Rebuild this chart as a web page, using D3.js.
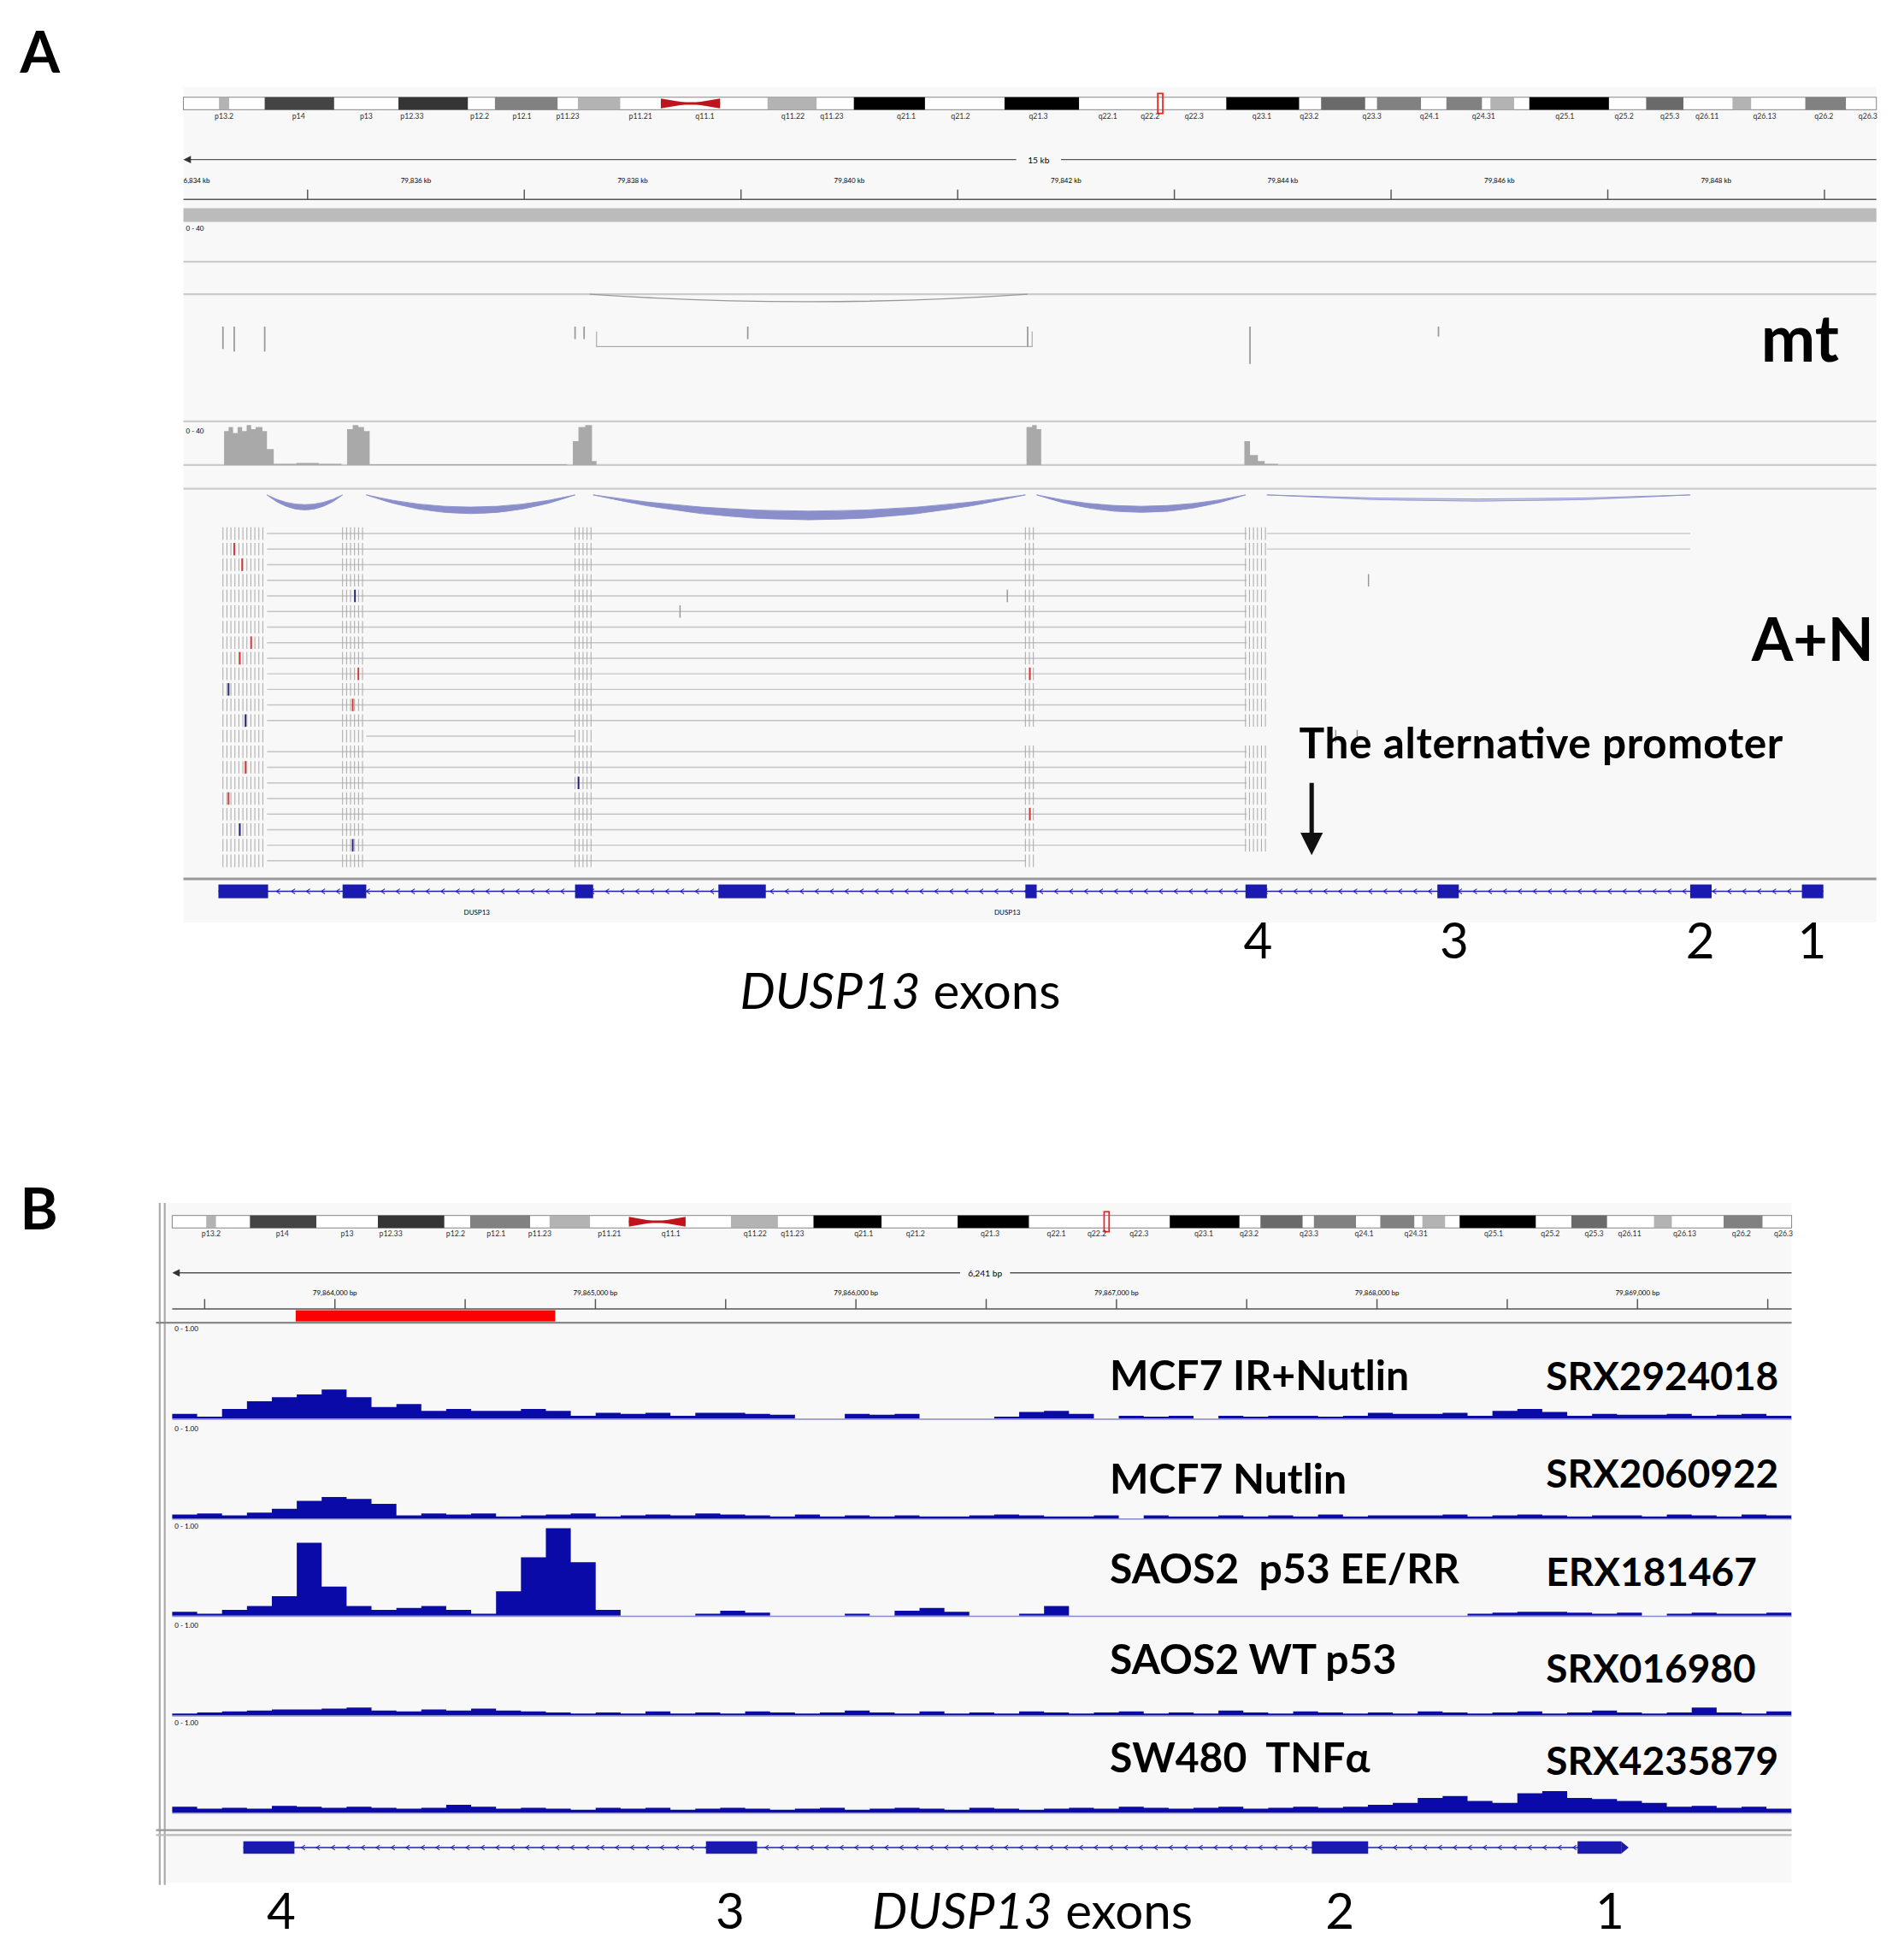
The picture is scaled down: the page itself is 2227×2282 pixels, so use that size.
<!DOCTYPE html>
<html><head><meta charset="utf-8">
<script src="https://cdn.jsdelivr.net/npm/d3@7"></script>
<style>body{margin:0;background:#fff}svg{display:block}</style>
</head><body><svg id="c" width="2227" height="2282" viewBox="0 0 1527 1565"></svg>
<script>
// ---------- DATA ----------
const bandStart = [.021,.048,.127,.184,.233,.345,.396,.485,.616,.672,.705,.746,.772,.795,.864,.915,.958];
const bandEnd   = [.027,.089,.168,.221,.258,.374,.438,.529,.659,.698,.731,.767,.786,.842,.886,.926,.982];
const bandStain = [.3,.75,.8,.5,.3,.3,1,1,1,.6,.5,.5,.3,1,.6,.3,.5];
const bandLabels = ["p13.2","p14","p13","p12.33","p12.2","p12.1","p11.23","p11.21","q11.1","q11.22","q11.23","q21.1","q21.2","q21.3","q22.1","q22.2","q22.3","q23.1","q23.2","q23.3","q24.1","q24.31","q25.1","q25.2","q25.3","q26.11","q26.13","q26.2","q26.3"];
const bandLabelPos = [.024,.068,.108,.135,.175,.200,.227,.270,.308,.360,.383,.427,.459,.505,.546,.571,.597,.637,.665,.702,.736,.768,.816,.851,.878,.900,.934,.969,.995];
const centro = [.282,.317];
const marker = .577;

// Panel A genomic coords (kb, 15 kb window)
const exonsA = [[0.31,0.75],[1.41,1.62],[3.47,3.63],[4.74,5.16],[7.46,7.56],[9.41,9.60],[11.11,11.30],[13.35,13.54],[14.34,14.53]];
const exonNumsA = [["4",9.52],["3",11.26],["2",13.44],["1",14.43]];
const covANkb = [0.34,0.36,0.40,0.44,0.48,0.52,0.56,0.60,0.64,0.70,0.74,0.80,1.0,1.2,1.40,1.45,1.50,1.55,1.60,1.65,3.40,3.45,3.50,3.56,3.62,3.66,7.43,7.47,7.52,7.56,7.60,9.36,9.40,9.45,9.52,9.58,9.70];
const covANval = [0,0.85,0.95,0.8,0.95,0.85,1,0.9,0.95,0.85,0.4,0.03,0.05,0.03,0,0.9,1,0.95,0.85,0.02,0,0.6,0.95,1,0.1,0,0,0.95,1,0.9,0,0,0.6,0.25,0.1,0.03,0];
const junctionsAN = [[0.74,1.41,12],[1.62,3.47,15],[3.63,7.46,20],[7.56,9.41,14],[9.60,13.35,5]];
const junctionsMt = [[3.60,7.48,6]];
const readSpans = [[0.74,9.42],[0.74,9.42],[0.74,9.42],[0.74,9.42],[0.74,9.42],[0.74,9.42],[0.74,9.42],[0.74,9.42],[0.74,9.42],[0.74,9.42],[0.74,9.42],[0.74,9.42],[0.74,9.42],[1.62,3.47],[0.74,9.42],[0.74,9.42],[0.74,9.42],[0.74,9.42],[0.74,9.42],[0.74,9.42],[0.74,9.42],[0.74,7.46]];
const mismatches = [[1,0.45,"#d33"],[2,0.52,"#d33"],[4,1.52,"#227"],[7,0.6,"#d33"],[8,0.5,"#d33"],[9,1.55,"#d33"],[9,7.5,"#d33"],[10,0.4,"#227"],[11,1.5,"#d33"],[12,0.55,"#227"],[15,0.55,"#d33"],[16,3.5,"#227"],[17,0.4,"#d33"],[18,7.5,"#d33"],[19,0.5,"#227"],[20,1.5,"#227"]];
const mtTicks = [[0.35,262,280],[0.45,262,282],[0.72,262,282],[3.47,262,272],[3.55,262,272],[5.0,262,272],[7.48,262,278],[9.45,262,292],[11.12,262,270]];
const extraTicks = [[4.4,5],[7.3,4],[10.21,13],[10.4,13],[10.5,3]];

// Panel B genomic coords (bp, 6,241 bp window)
const exonsB = [[274,471],[2057,2254],[4392,4609],[5416,5584]];
const exonNumsB = [["4",420],["3",2150],["2",4500],["1",5540]];
const redRegion = [476,1476];
const tickLabelsB = ["79,864,000 bp","79,865,000 bp","79,866,000 bp","79,867,000 bp","79,868,000 bp","79,869,000 bp"];
const binBp = 96;
const trackNames = ["MCF7 IR+Nutlin","MCF7 Nutlin","SAOS2  p53 EE/RR","SAOS2 WT p53","SW480  TNFα"];
const trackIds = ["SRX2924018","SRX2060922","ERX181467","SRX016980","SRX4235879"];
const cov1 = [.05,.02,.1,.18,.22,.25,.3,.22,.12,.15,.08,.1,.08,.08,.1,.08,.03,.06,.05,.06,.03,.06,.06,.05,.04,0,0,.05,.04,.05,0,0,0,.02,.07,.08,.05,0,.03,.02,.03,0,.03,.02,.03,.03,.02,.03,.06,.05,.05,.06,.03,.08,.1,.07,.03,.05,.04,.04,.05,.03,.04,.05,.03];
const cov2 = [.04,.05,.03,.06,.1,.18,.22,.2,.15,.03,.05,.04,.05,.02,.03,.04,.05,.02,.03,.04,.03,.05,.04,.03,.02,.04,.02,.03,.02,.03,.02,.02,.03,.04,.03,.02,.02,.03,0,.03,.02,.02,.03,.02,.03,.02,.04,.02,.03,.03,.03,.04,.02,.03,.04,.03,.02,.03,.03,.02,.04,.03,.02,.04,.03];
const cov3 = [.04,.02,.06,.1,.2,.75,.3,.1,.06,.08,.1,.06,.02,.25,.6,.9,.55,.06,0,0,0,.02,.05,.03,0,0,0,.02,0,.05,.08,.04,0,0,.02,.1,0,0,0,0,0,0,0,0,0,0,0,0,0,0,0,0,.02,.03,.04,.04,.03,.02,.03,0,.02,.03,.02,.02,.03];
const cov4 = [.02,.03,.04,.05,.06,.06,.07,.08,.05,.04,.06,.05,.07,.05,.04,.03,.02,.03,.02,.04,.02,.03,.02,.04,.03,.02,.03,.05,.03,.02,.04,.02,.03,.02,.04,.03,.02,.03,.04,.02,.03,.02,.05,.03,.02,.04,.03,.02,.03,.02,.04,.03,.02,.03,.04,.02,.03,.05,.03,.02,.03,.08,.03,.02,.04];
const cov5 = [.06,.04,.05,.04,.07,.06,.05,.06,.05,.04,.05,.08,.06,.04,.05,.04,.03,.05,.04,.05,.03,.04,.05,.04,.03,.04,.05,.03,.04,.05,.04,.03,.05,.04,.03,.04,.05,.04,.06,.05,.04,.05,.06,.04,.05,.06,.05,.06,.08,.1,.15,.17,.12,.1,.2,.22,.15,.14,.12,.1,.06,.07,.05,.06,.04];
const covB = [cov1,cov2,cov3,cov4,cov5];

// ---------- DRAW ----------
const svg = d3.select("#c");
const FONT = "Lato, 'Open Sans', sans-serif";
svg.append("rect").attr("width",1527).attr("height",1565).attr("fill","#fff");

function ideogram(g, x0, x1, y){
  const f = d3.scaleLinear().domain([0,1]).range([x0,x1]);
  g.append("rect").attr("x",x0).attr("y",y).attr("width",x1-x0).attr("height",10).attr("fill","#fff").attr("stroke","#888").attr("stroke-width",0.7);
  bandStart.forEach((s,i)=>{
    const c = d3.interpolateGreys(0.15+bandStain[i]*0.85);
    g.append("rect").attr("x",f(s)).attr("y",y).attr("width",f(bandEnd[i])-f(s)).attr("height",10).attr("fill",c);
  });
  const cm=(centro[0]+centro[1])/2;
  g.append("path").attr("d",`M${f(centro[0])},${y+1}L${f(cm)},${y+5}L${f(centro[0])},${y+9}Z M${f(centro[1])},${y+1}L${f(cm)},${y+5}L${f(centro[1])},${y+9}Z`).attr("fill","#c0141c");
  g.append("line").attr("x1",f(centro[0])).attr("x2",f(centro[1])).attr("y1",y+5).attr("y2",y+5).attr("stroke","#c0141c").attr("stroke-width",2);
  g.append("rect").attr("x",f(marker)-2).attr("y",y-3).attr("width",4).attr("height",16).attr("fill","none").attr("stroke","#e22").attr("stroke-width",1.2);
  bandLabels.forEach((l,i)=>g.append("text").attr("x",f(bandLabelPos[i])).attr("y",y+17).attr("text-anchor","middle").attr("font-size",6).attr("font-family",FONT).attr("fill","#333").text(l));
}
function geneTrack(g, xs, exons, y, h){
  g.append("line").attr("x1",xs(exons[0][0])).attr("x2",xs(exons[exons.length-1][1])).attr("y1",y).attr("y2",y).attr("stroke","#2020b0").attr("stroke-width",1);
  for(let x=xs(exons[0][0])+12;x<xs(exons[exons.length-1][1]);x+=12)
    g.append("path").attr("d",`M${x+1.5},${y-2}L${x-1.5},${y}L${x+1.5},${y+2}`).attr("fill","none").attr("stroke","#2020b0").attr("stroke-width",0.7);
  exons.forEach(e=>g.append("rect").attr("x",xs(e[0])).attr("y",y-h/2).attr("width",xs(e[1])-xs(e[0])).attr("height",h).attr("fill","#1a1ab0"));
}

// ===== PANEL A =====
const A = svg.append("g");
A.append("text").attr("x",16).attr("y",58).attr("font-size",46).attr("font-weight","bold").attr("font-family",FONT).text("A");
A.append("rect").attr("x",147).attr("y",70).attr("width",1358).attr("height",670).attr("fill","#f8f8f8");
ideogram(A,147,1505,78);
const xA = d3.scaleLinear().domain([0,15]).range([147,1505]);
A.append("line").attr("x1",150).attr("x2",1505).attr("y1",128).attr("y2",128).attr("stroke","#555");
A.append("path").attr("d","M147,128l6,-3v6z").attr("fill","#333");
A.append("rect").attr("x",815).attr("y",123).attr("width",36).attr("height",10).attr("fill","#f8f8f8");
A.append("text").attr("x",833).attr("y",131).attr("text-anchor","middle").attr("font-size",7).attr("font-family",FONT).text("15 kb");
const tkA = d3.range(1.1,15,1.92);
A.append("line").attr("x1",147).attr("x2",1505).attr("y1",160).attr("y2",160).attr("stroke","#555");
tkA.forEach((t,i)=>{
  A.append("line").attr("x1",xA(t)).attr("x2",xA(t)).attr("y1",152).attr("y2",160).attr("stroke","#555");
  if(i<7) A.append("text").attr("x",xA(t+0.96)).attr("y",147).attr("text-anchor","middle").attr("font-size",5.5).attr("font-family",FONT).text(`79,${836+i*2} kb`);
});
A.append("text").attr("x",147).attr("y",147).attr("font-size",5.5).attr("font-family",FONT).text("6,834 kb");
A.append("rect").attr("x",147).attr("y",167).attr("width",1358).attr("height",11).attr("fill","#bbb");
A.append("text").attr("x",149).attr("y",185).attr("font-size",5.5).attr("font-family",FONT).text("0 - 40");
[210,236,338,373,392].forEach(y=>A.append("line").attr("x1",147).attr("x2",1505).attr("y1",y).attr("y2",y).attr("stroke","#ccc").attr("stroke-width",1.5));
junctionsMt.forEach(j=>{const x0=xA(j[0]),x1=xA(j[1]);A.append("path").attr("d",`M${x0},236Q${(x0+x1)/2},${236+j[2]*2} ${x1},236`).attr("fill","none").attr("stroke","#999").attr("stroke-width",1);});
A.append("path").attr("d",`M${xA(3.66)},266V278H${xA(7.52)}V266`).attr("fill","none").attr("stroke","#aaa").attr("stroke-width",0.8);
mtTicks.forEach(t=>A.append("line").attr("x1",xA(t[0])).attr("x2",xA(t[0])).attr("y1",t[1]).attr("y2",t[2]).attr("stroke","#999").attr("stroke-width",1.2));
A.append("text").attr("x",1475).attr("y",290).attr("text-anchor","end").attr("font-size",52).attr("font-weight","bold").attr("font-family",FONT).text("mt");
A.append("text").attr("x",149).attr("y",348).attr("font-size",5.5).attr("font-family",FONT).text("0 - 40");
const covY = d3.scaleLinear().domain([0,1]).range([373,341]);
A.append("path").datum(covANkb.map((k,i)=>[k,covANval[i]])).attr("d",d3.area().x(d=>xA(d[0])).y0(373).y1(d=>covY(d[1])).curve(d3.curveStepAfter)).attr("fill","#a9a9a9");
junctionsAN.forEach(j=>{const x0=xA(j[0]),x1=xA(j[1]),d=j[2];
  A.append("path").attr("d",`M${x0},397Q${(x0+x1)/2},${397+d*2} ${x1},397Q${(x0+x1)/2},${397+d*1.3} ${x0},397Z`).attr("fill", d>5?"#8a8fcc":"#c8cae6").attr("stroke","#8a8fcc").attr("stroke-width",0.6);});
const rowY = d3.scaleLinear().domain([0,1]).range([428,440.5]);
readSpans.forEach((s,r)=>{
  const y=rowY(r);
  A.append("line").attr("x1",xA(s[0])).attr("x2",xA(s[1])).attr("y1",y).attr("y2",y).attr("stroke","#c4c4c4").attr("stroke-width",1);
  exonsA.slice(0,6).forEach((e,k)=>{ if(k===3) return; if(xA(e[0])>xA(s[1])+2) return;
    const x0 = k===0? xA(0.35): xA(e[0]); const x1 = k===0? xA(0.72): xA(e[1]);
    for(let x=x0;x<x1;x+=3.2) A.append("line").attr("x1",x).attr("x2",x).attr("y1",y-5).attr("y2",y+5).attr("stroke","#aaa").attr("stroke-width",0.7);
  });
});
A.append("line").attr("x1",xA(9.6)).attr("x2",xA(13.35)).attr("y1",rowY(0)).attr("y2",rowY(0)).attr("stroke","#ccc");
A.append("line").attr("x1",xA(9.6)).attr("x2",xA(13.35)).attr("y1",rowY(1)).attr("y2",rowY(1)).attr("stroke","#ccc");
mismatches.forEach(m=>A.append("line").attr("x1",xA(m[1])).attr("x2",xA(m[1])).attr("y1",rowY(m[0])-5).attr("y2",rowY(m[0])+5).attr("stroke",m[2]).attr("stroke-width",1.3));
extraTicks.forEach(t=>A.append("line").attr("x1",xA(t[0])).attr("x2",xA(t[0])).attr("y1",rowY(t[1])-5).attr("y2",rowY(t[1])+5).attr("stroke","#999").attr("stroke-width",1));
A.append("text").attr("x",1503).attr("y",530).attr("text-anchor","end").attr("font-size",48).attr("font-weight","bold").attr("font-family",FONT).text("A+N");
A.append("text").attr("x",1042).attr("y",608).attr("font-size",34).attr("font-weight","bold").attr("font-family",FONT).attr("textLength",388).text("The alternative promoter");
A.append("line").attr("x1",1052).attr("x2",1052).attr("y1",628).attr("y2",672).attr("stroke","#111").attr("stroke-width",3.5);
A.append("path").attr("d","M1043,668L1061,668L1052,686Z").attr("fill","#111");
A.append("line").attr("x1",147).attr("x2",1505).attr("y1",705).attr("y2",705).attr("stroke","#999").attr("stroke-width",2);
geneTrack(A,xA,exonsA,715,11);
A.append("text").attr("x",xA(2.6)).attr("y",734).attr("font-size",5.5).attr("font-family",FONT).attr("text-anchor","middle").text("DUSP13");
A.append("text").attr("x",xA(7.3)).attr("y",734).attr("font-size",5.5).attr("font-family",FONT).attr("text-anchor","middle").text("DUSP13");
exonNumsA.forEach(n=>A.append("text").attr("x",xA(n[1])).attr("y",769).attr("text-anchor","middle").attr("font-size",40).attr("font-family",FONT).text(n[0]));
const tA = A.append("text").attr("x",722).attr("y",809).attr("text-anchor","middle").attr("font-size",40).attr("font-family",FONT);
tA.append("tspan").attr("font-style","italic").text("DUSP13");tA.append("tspan").text(" exons");

// ===== PANEL B =====
const B = svg.append("g");
B.append("text").attr("x",16).attr("y",986).attr("font-size",46).attr("font-weight","bold").attr("font-family",FONT).text("B");
B.append("rect").attr("x",132).attr("y",965).attr("width",1305).attr("height",545).attr("fill","#f8f8f8");
B.append("line").attr("x1",128).attr("x2",128).attr("y1",965).attr("y2",1512).attr("stroke","#aaa").attr("stroke-width",1.5);
B.append("line").attr("x1",132).attr("x2",132).attr("y1",965).attr("y2",1512).attr("stroke","#aaa").attr("stroke-width",1.5);
ideogram(B,138,1437,975);
const xB = d3.scaleLinear().domain([0,6241]).range([138,1437]);
B.append("line").attr("x1",141).attr("x2",1437).attr("y1",1021).attr("y2",1021).attr("stroke","#555");
B.append("path").attr("d","M138,1021l6,-3v6z").attr("fill","#333");
B.append("rect").attr("x",770).attr("y",1016).attr("width",40).attr("height",10).attr("fill","#f8f8f8");
B.append("text").attr("x",790).attr("y",1024).attr("text-anchor","middle").attr("font-size",7).attr("font-family",FONT).text("6,241 bp");
B.append("line").attr("x1",138).attr("x2",1437).attr("y1",1050).attr("y2",1050).attr("stroke","#555");
d3.range(125,6241,502).forEach((t,i)=>{
  B.append("line").attr("x1",xB(t)).attr("x2",xB(t)).attr("y1",1042).attr("y2",1050).attr("stroke","#555");
  if(i%2===1 && tickLabelsB[(i-1)/2]) B.append("text").attr("x",xB(t)).attr("y",1039).attr("text-anchor","middle").attr("font-size",5.5).attr("font-family",FONT).text(tickLabelsB[(i-1)/2]);
});
B.append("rect").attr("x",xB(redRegion[0])).attr("y",1051).attr("width",xB(redRegion[1])-xB(redRegion[0])).attr("height",9).attr("fill","#f00");
B.append("line").attr("x1",125).attr("x2",1437).attr("y1",1061).attr("y2",1061).attr("stroke","#888").attr("stroke-width",1.5);
const baselines = [1138,1218,1296,1376,1454];
const nameY = [1115,1198,1270,1343,1422];
const idY = [1115,1193,1272,1350,1424];
covB.forEach((cv,t)=>{
  const base = baselines[t];
  const yS = d3.scaleLinear().domain([0,1]).range([base, base-78]);
  B.append("text").attr("x",140).attr("y",base-70).attr("font-size",5.5).attr("font-family",FONT).text("0 - 1.00");
  const pts = cv.map((v,i)=>[i*binBp,v]); pts.push([cv.length*binBp, cv[cv.length-1]]);
  B.append("path").datum(pts).attr("d",d3.area().x(d=>xB(d[0])).y0(base).y1(d=>yS(d[1])).curve(d3.curveStepAfter)).attr("fill","#0a0aa8");
  B.append("line").attr("x1",138).attr("x2",1437).attr("y1",base+0.5).attr("y2",base+0.5).attr("stroke","#8888cc").attr("stroke-width",1);
  B.append("text").attr("x",890).attr("y",nameY[t]).attr("font-size",33).attr("font-weight","bold").attr("font-family",FONT).style("white-space","pre").text(trackNames[t]);
  B.append("text").attr("x",1240).attr("y",idY[t]).attr("font-size",31.5).attr("font-weight","bold").attr("font-family",FONT).text(trackIds[t]);
});
B.append("line").attr("x1",125).attr("x2",1437).attr("y1",1468).attr("y2",1468).attr("stroke","#999").attr("stroke-width",1.5);
B.append("line").attr("x1",125).attr("x2",1437).attr("y1",1472).attr("y2",1472).attr("stroke","#bbb").attr("stroke-width",1.5);
geneTrack(B,xB,exonsB,1482,10);
B.append("path").attr("d",`M${xB(5584)},1477l6,5l-6,5z`).attr("fill","#1a1ab0");
exonNumsB.forEach(n=>B.append("text").attr("x",xB(n[1])).attr("y",1547).attr("text-anchor","middle").attr("font-size",40).attr("font-family",FONT).text(n[0]));
const tB = B.append("text").attr("x",828).attr("y",1547).attr("text-anchor","middle").attr("font-size",40).attr("font-family",FONT);
tB.append("tspan").attr("font-style","italic").text("DUSP13");tB.append("tspan").text(" exons");
</script></body></html>
